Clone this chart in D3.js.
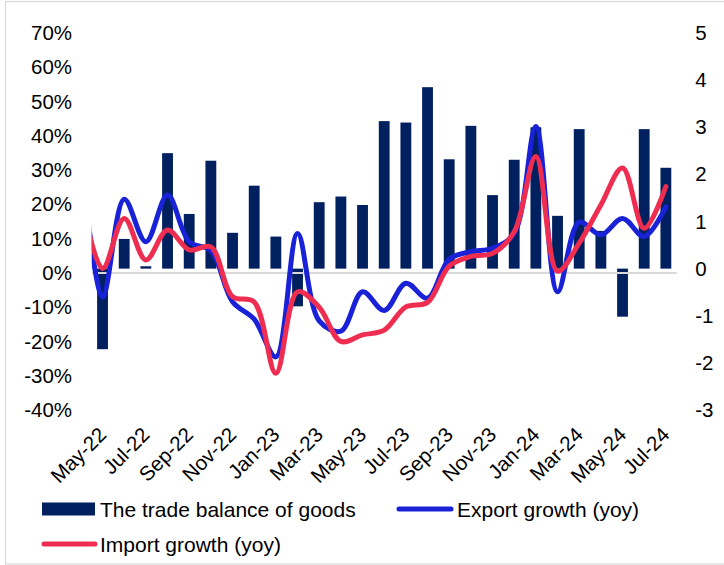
<!DOCTYPE html>
<html><head><meta charset="utf-8">
<script src="https://cdn.jsdelivr.net/npm/d3@7"></script>
<style>
body{margin:0;background:#fff}
svg{display:block}
text{font-family:"Liberation Sans",Arial,sans-serif;fill:#000}
</style>
</head><body>
<svg id="c" width="724" height="565"></svg>
<script>
// ---- data ----
const months = ["May-22","Jun-22","Jul-22","Aug-22","Sep-22","Oct-22","Nov-22","Dec-22",
  "Jan-23","Feb-23","Mar-23","Apr-23","May-23","Jun-23","Jul-23","Aug-23","Sep-23","Oct-23",
  "Nov-23","Dec-23","Jan-24","Feb-24","Mar-24","Apr-24","May-24","Jun-24","Jul-24"];
// the trade balance of goods (right axis)
const tradeBalance = [-1.71,0.63,0.05,2.45,1.16,2.29,0.76,1.76,0.68,-0.8,1.41,1.53,1.35,3.13,3.10,3.85,
  2.32,3.03,1.56,2.31,3.0,1.12,2.96,0.8,-1.02,2.96,2.14];
// line series start one month earlier (Apr-22), partly hidden at the plot edge
const lineMonths = ["Apr-22"].concat(months);
const exportGrowth = [35,-7,21.5,9.1,22.7,9.1,6.5,-8.4,-13.5,-24.5,11.5,-14,-17,-5.5,-11,-3,-7.4,
  4,6.2,7.2,11.5,42.7,-5.5,14.8,11.1,15.9,10.6,19.3];
const importGrowth = [22.5,1.3,15.9,3.8,12.5,6.7,7.6,-6.9,-8.5,-29.3,-5.5,-10,-20,-18.1,-16.7,-9.9,-8.6,
  2,4.8,5.7,12,34,0.5,8.7,19.8,30.6,13,25.2];
const leftTicks = [70,60,50,40,30,20,10,0,-10,-20,-30,-40];
const rightTicks = [5,4,3,2,1,0,-1,-2,-3];
const xLabels = months.filter((d,i)=>i%2===0);
const legendItems = ["The trade balance of goods","Export growth (yoy)","Import growth (yoy)"];

// ---- layout ----
const L = 91.7, R = 676.7, T = 33, B = 410;
const navy = "#00205f", blue = "#1a22d8", red = "#ee2d50";
const svg = d3.select("#c");

svg.append("rect").attr("x",5.5).attr("y",1.5).attr("width",740).attr("height",562.5)
  .attr("fill","none").attr("stroke","#d9d9d9").attr("stroke-width",1.2);

const x = d3.scaleBand().domain(months).range([L,R]).paddingInner(0.5).paddingOuter(0.25);
const step = x.step();
const xi = d3.scaleLinear().domain([-0.5, months.length-0.5]).range([L,R]);
const yL = d3.scaleLinear().domain([-40,70]).range([B,T]);
const yR = d3.scaleLinear().domain([-3,5]).range([B,T]);

// bars
svg.append("g").selectAll("rect").data(months).join("rect")
  .attr("x",d=>x(d)).attr("width",x.bandwidth())
  .attr("y",(d,i)=>yR(Math.max(0,tradeBalance[i])))
  .attr("height",(d,i)=>Math.abs(yR(tradeBalance[i])-yR(0)))
  .attr("fill",navy);

// category axis line at 0 of primary axis
svg.append("line").attr("x1",L).attr("x2",R).attr("y1",yL(0)).attr("y2",yL(0))
  .attr("stroke","#d9d9d9").attr("stroke-width",2);

// lines
svg.append("clipPath").attr("id","pc").append("rect")
  .attr("x",L).attr("y",0).attr("width",R-L+20).attr("height",565);
const line = d3.line().x((d,i)=>xi(i-1)).y(d=>yL(d)).curve(d3.curveCatmullRom.alpha(0.5));
const lg = svg.append("g").attr("clip-path","url(#pc)");
lg.append("path").attr("d",line(exportGrowth)).attr("fill","none").attr("stroke",blue)
  .attr("stroke-width",5).attr("stroke-linecap","round").attr("stroke-linejoin","round");
lg.append("path").attr("d",line(importGrowth)).attr("fill","none").attr("stroke",red)
  .attr("stroke-width",5).attr("stroke-linecap","round").attr("stroke-linejoin","round");

// axes
const fs = "20.5px";
const axL = svg.append("g").attr("transform",`translate(${L},0)`)
  .call(d3.axisLeft(yL).tickValues(leftTicks).tickFormat(d=>d+"%").tickSize(0).tickPadding(19.7));
axL.select(".domain").remove();
axL.selectAll("text").style("font-size",fs).attr("font-family",null);
const axR = svg.append("g").attr("transform",`translate(${R},0)`)
  .call(d3.axisRight(yR).tickValues(rightTicks).tickFormat(d=>d).tickSize(0).tickPadding(18.5));
axR.select(".domain").remove();
axR.selectAll("text").style("font-size",fs).attr("font-family",null);
const axB = svg.append("g").attr("transform",`translate(0,${B})`)
  .call(d3.axisBottom(x).tickValues(xLabels).tickSize(0));
axB.select(".domain").remove();
axB.selectAll("text").style("font-size",fs).attr("font-family",null)
  .attr("text-anchor","end").attr("x",0).attr("y",0).attr("dy",0)
  .attr("transform","translate(5,26) rotate(-45)");

// legend
const lf = "21px";
const leg = svg.append("g");
leg.append("rect").attr("x",42).attr("y",502.5).attr("width",53).attr("height",13).attr("fill",navy);
leg.append("text").attr("x",100).attr("y",516.5).style("font-size",lf).text(legendItems[0]);
leg.append("line").attr("x1",399).attr("x2",451).attr("y1",509).attr("y2",509)
  .attr("stroke",blue).attr("stroke-width",5).attr("stroke-linecap","round");
leg.append("text").attr("x",457).attr("y",516.5).style("font-size",lf).text(legendItems[1]);
leg.append("line").attr("x1",44).attr("x2",95).attr("y1",544).attr("y2",544)
  .attr("stroke",red).attr("stroke-width",5).attr("stroke-linecap","round");
leg.append("text").attr("x",100).attr("y",551.5).style("font-size",lf).text(legendItems[2]);
</script>
</body></html>
